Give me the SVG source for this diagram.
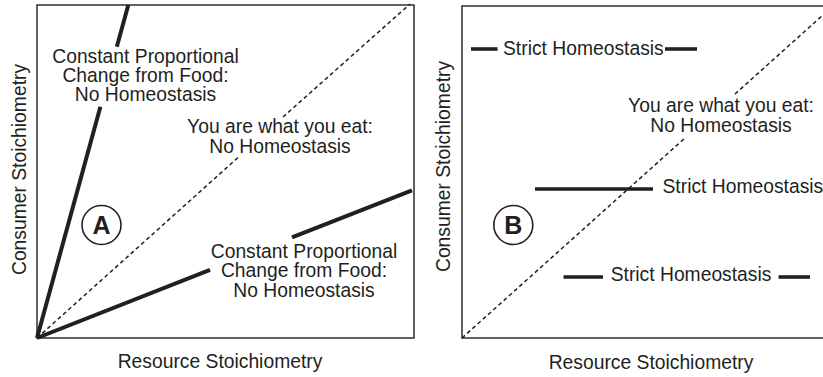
<svg xmlns="http://www.w3.org/2000/svg" width="823" height="377" viewBox="0 0 823 377">
<style>
text{font-family:"Liberation Sans",Arial,sans-serif;font-size:19.3px;fill:#231f20}
.c{text-anchor:middle}
.frame{fill:none;stroke:#231f20;stroke-width:1.4}
.thick{stroke:#231f20;stroke-width:4;fill:none}
.mid{stroke:#231f20;stroke-width:3.6;fill:none}
.dash{stroke:#231f20;stroke-width:1.5;stroke-dasharray:4 3;fill:none}
.ring{fill:none;stroke:#231f20;stroke-width:1.6}
.lab{font-weight:bold;font-size:25px}
</style>
<g id="panelA">
  <rect id="frameA" class="frame" x="37" y="5" width="377" height="333"/>
  <g id="connectorsA">
    <line class="thick" x1="128.3" y1="5" x2="116.8" y2="46.7"/>
    <line class="thick" x1="100.4" y1="106.7" x2="37" y2="338"/>
    <line class="dash" x1="37" y1="338" x2="238.6" y2="157"/>
    <line class="dash" x1="283" y1="117" x2="410" y2="4"/>
    <line class="thick" x1="37" y1="338" x2="210" y2="269.8"/>
    <line class="thick" x1="292" y1="237.4" x2="412" y2="190.3"/>
  </g>
  <g id="labelA1">
    <text class="c" x="145.5" y="62.6">Constant Proportional</text>
    <text class="c" x="145.5" y="81.6">Change from Food:</text>
    <text class="c" x="145.5" y="100.6">No Homeostasis</text>
  </g>
  <g id="labelA2">
    <text class="c" x="280" y="133.3">You are what you eat:</text>
    <text class="c" x="280" y="153.3">No Homeostasis</text>
  </g>
  <g id="labelA3">
    <text class="c" x="304" y="258">Constant Proportional</text>
    <text class="c" x="304" y="277">Change from Food:</text>
    <text class="c" x="304" y="296.7">No Homeostasis</text>
  </g>
  <g id="badgeA">
    <circle class="ring" cx="101.5" cy="225" r="19.5"/>
    <text class="c lab" x="101.5" y="234">A</text>
  </g>
  <text id="yA" class="c" transform="translate(26,169.5) rotate(-90)">Consumer Stoichiometry</text>
  <text id="xA" class="c" x="220" y="368">Resource Stoichiometry</text>
</g>
<g id="panelB">
  <rect id="frameB" class="frame" x="462" y="6" width="366" height="332"/>
  <g id="connectorsB">
    <line class="dash" x1="462" y1="338" x2="685" y2="138"/>
    <line class="dash" x1="735" y1="94" x2="823" y2="15"/>
    <line class="mid" x1="471" y1="49" x2="497.5" y2="49"/>
    <line class="mid" x1="665" y1="49" x2="697" y2="49"/>
    <line class="mid" x1="535" y1="189" x2="653" y2="189"/>
    <line class="mid" x1="563.5" y1="277" x2="603" y2="277"/>
    <line class="mid" x1="778.5" y1="277" x2="810" y2="277"/>
  </g>
  <g id="labelB1">
    <text x="503" y="54.5">Strict Homeostasis</text>
  </g>
  <g id="labelB2">
    <text class="c" x="721" y="111.7">You are what you eat:</text>
    <text class="c" x="721" y="131.7">No Homeostasis</text>
  </g>
  <g id="labelB3">
    <text x="662.5" y="192.7">Strict Homeostasis</text>
  </g>
  <g id="labelB4">
    <text x="610.7" y="281">Strict Homeostasis</text>
  </g>
  <g id="badgeB">
    <circle class="ring" cx="513.3" cy="225" r="19.5"/>
    <text class="c lab" x="513.3" y="234">B</text>
  </g>
  <text id="yB" class="c" transform="translate(450,166.5) rotate(-90)">Consumer Stoichiometry</text>
  <text id="xB" class="c" x="651" y="369">Resource Stoichiometry</text>
</g>
</svg>
